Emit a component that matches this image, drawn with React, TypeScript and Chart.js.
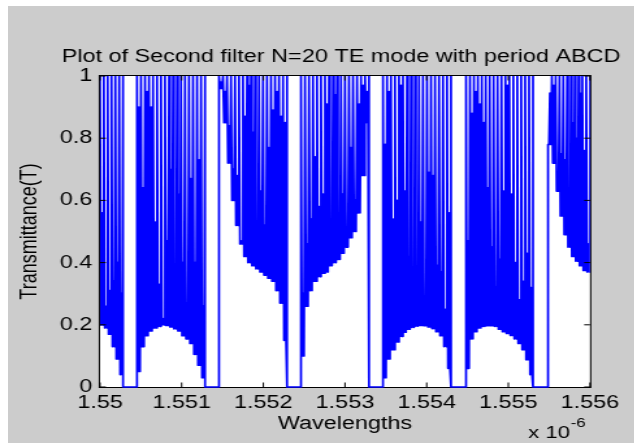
import React, { useEffect, useRef } from 'react';
import { Chart, registerables } from 'chart.js';

Chart.register(...registerables);

// ---- axis ticks (wavelength axis in units of 1e-6 m) ----
const xTicks = [1.55, 1.551, 1.552, 1.553, 1.554, 1.555, 1.556];
const xTickLabels = ['1.55', '1.551', '1.552', '1.553', '1.554', '1.555', '1.556'];
const yTicks = [0, 0.2, 0.4, 0.6, 0.8, 1];
const yTickLabels = ['0', '0.2', '0.4', '0.6', '0.8', '1'];

const TITLE = 'Plot of Second filter N=20 TE mode with period ABCD';

// ---- stop bands (T = 0) ----
const stopStart = [1.550282, 1.551286, 1.55229, 1.553294, 1.554298, 1.555302];
const stopEnd = [1.550453, 1.551457, 1.552461, 1.553465, 1.554482, 1.555486];

// ---- pass bands: fringe minima (lower envelope) and intermediate peaks ----
const bandEdge = [1, 1, 1, 1, 1, 1, 0.78];
const p0Min = [0.2, 0.19, 0.17, 0.13, 0.09, 0.04];
const p0Mid = [0.56, 0.26, 0.31, 0.34, 0.4, 0.3];
const p1Min = [0.05, 0.13, 0.165, 0.18, 0.19, 0.195, 0.2, 0.198, 0.193, 0.187, 0.18, 0.165, 0.155, 0.14, 0.105, 0.07, 0.03];
const p1Mid = [0.9, 0.64, 0.95, 0.9, 0.53, 0.33, 0.22, 0.47, 0.7, 0.3, 0.62, 0.4, 0.27, 0.67, 0.4, 0.73, 0.26];
const p2Min = [0.96, 0.85, 0.72, 0.6, 0.52, 0.46, 0.42, 0.4, 0.39, 0.38, 0.37, 0.36, 0.35, 0.34, 0.31, 0.27, 0.15];
const p2Mid = [0.98, 0.95, 0.84, 0.7, 0.68, 0.47, 0.87, 0.97, 0.82, 0.48, 0.63, 0.52, 0.77, 0.89, 0.95, 0.87, 0.85];
const p3Min = [0.1, 0.26, 0.31, 0.34, 0.355, 0.366, 0.37, 0.39, 0.4, 0.41, 0.43, 0.45, 0.48, 0.5, 0.56, 0.68, 0.85];
const p3Mid = [0.3, 0.46, 0.54, 0.74, 0.58, 0.62, 0.91, 0.4, 0.94, 0.47, 0.62, 0.46, 0.77, 0.6, 0.91, 0.97, 0.95];
const p4Min = [0.03, 0.09, 0.12, 0.145, 0.163, 0.176, 0.186, 0.192, 0.196, 0.198, 0.197, 0.193, 0.188, 0.178, 0.165, 0.13, 0.06];
const p4Mid = [0.78, 0.95, 0.54, 0.6, 0.97, 0.63, 0.42, 0.3, 0.215, 0.53, 0.22, 0.69, 0.68, 0.39, 0.37, 0.25, 0.56];
const p5Min = [0.06, 0.155, 0.178, 0.19, 0.195, 0.197, 0.197, 0.195, 0.186, 0.178, 0.172, 0.166, 0.155, 0.14, 0.12, 0.088, 0.04];
const p5Mid = [0.47, 0.88, 0.95, 0.91, 0.85, 0.64, 0.45, 0.32, 0.41, 0.63, 0.97, 0.62, 0.4, 0.28, 0.34, 0.43, 0.32];
const p6Min = [0.78, 0.72, 0.63, 0.55, 0.49, 0.45, 0.42, 0.405, 0.39, 0.375, 0.37];
const p6Mid = [0.945, 0.97, 0.63, 0.75, 0.73, 0.48, 0.85, 0.8, 0.945, 0.76, 0.46];

const X_MIN = 1.55;
const X_MAX = 1.556;

const bandMins = [p0Min, p1Min, p2Min, p3Min, p4Min, p5Min, p6Min];
const bandMids = [p0Mid, p1Mid, p2Mid, p3Mid, p4Mid, p5Mid, p6Mid];
const bandStart = [X_MIN, ...stopEnd];
const bandEnd = [...stopStart, X_MAX];

function buildSeries() {
  const pts: { x: number; y: number }[] = [];
  bandMins.forEach((mins, i) => {
    const mids = bandMids[i];
    const a = bandStart[i];
    const d = (bandEnd[i] - a) / mins.length;
    mins.forEach((L, k) => {
      const x0 = a + k * d;
      pts.push({ x: x0, y: k === 0 ? bandEdge[i] : 1 });
      pts.push({ x: x0 + d / 4, y: L });
      pts.push({ x: x0 + d / 2, y: mids[k] });
      pts.push({ x: x0 + (3 * d) / 4, y: L });
    });
    pts.push({ x: bandEnd[i], y: 1 });
    if (i < stopStart.length) {
      pts.push({ x: stopStart[i], y: 0 });
      pts.push({ x: stopEnd[i], y: 0 });
    }
  });
  return pts;
}

const FONT = "'Liberation Sans', Arial, Helvetica, sans-serif";
const SX = 1.3; // horizontal stretch of the whole figure
const CW = 488;
const CH = 443;
const PLOT_LEFT = 100 / SX;
const PLOT_RIGHT = 590 / SX;
const PLOT_TOP = 76;
const PLOT_BOTTOM = 387;

const framePlugin = {
  id: 'matlabFrame',
  beforeDraw(chart: any) {
    const { ctx, chartArea: a } = chart;
    ctx.save();
    ctx.fillStyle = '#ffffff';
    ctx.fillRect(a.left, a.top, a.right - a.left, a.bottom - a.top);
    ctx.restore();
  },
  beforeDatasetsDraw(chart: any) {
    const { ctx, chartArea: a } = chart;
    ctx.save();
    ctx.strokeStyle = '#000';
    ctx.lineWidth = 1;
    ctx.strokeRect(a.left - 0.5, a.top - 0.5, a.right - a.left + 1, a.bottom - a.top + 1);
    ctx.restore();
  },
  afterDatasetsDraw(chart: any) {
    const { ctx, chartArea: a, scales } = chart;
    const len = 4.5;
    ctx.save();
    ctx.strokeStyle = '#000';
    ctx.lineWidth = 1;
    ctx.beginPath();
    scales.x.ticks.forEach((t: any) => {
      const px = scales.x.getPixelForValue(t.value);
      ctx.moveTo(px, a.bottom);
      ctx.lineTo(px, a.bottom - len);
      ctx.moveTo(px, a.top);
      ctx.lineTo(px, a.top + len);
    });
    scales.y.ticks.forEach((t: any) => {
      const py = scales.y.getPixelForValue(t.value);
      ctx.moveTo(a.left, py);
      ctx.lineTo(a.left + len, py);
      ctx.moveTo(a.right, py);
      ctx.lineTo(a.right - len, py);
    });
    ctx.stroke();
    ctx.restore();
  },
  afterDraw(chart: any) {
    const { ctx, chartArea: a } = chart;
    ctx.save();
    ctx.fillStyle = '#000';
    ctx.textBaseline = 'middle';
    // title, centred over the axes
    ctx.textAlign = 'center';
    ctx.font = `18px ${FONT}`;
    ctx.fillText(TITLE, (a.left + a.right) / 2 - 3, a.top - 19);
    // axis exponent
    ctx.textAlign = 'left';
    ctx.font = `17px ${FONT}`;
    const base = 'x 10';
    const bx = a.right - 47.5;
    ctx.fillText(base, bx, 433);
    const w = ctx.measureText(base).width;
    ctx.font = `13px ${FONT}`;
    ctx.fillText('-6', bx + w + 0.5, 423);
    ctx.restore();
  },
};

export default function App() {
  const ref = useRef<HTMLCanvasElement>(null);
  useEffect(() => {
    const canvas = ref.current;
    if (!canvas) return;
    const data = buildSeries();
    const chart = new Chart(canvas, {
      type: 'line',
      data: {
        datasets: [
          {
            label: 'T',
            data,
            borderColor: '#0000ff',
            borderWidth: 1.7,
            borderJoinStyle: 'round',
            pointRadius: 0,
            tension: 0,
            fill: false,
            clip: { left: 0, top: 0, right: 0, bottom: 2 } as any,
          },
        ],
      },
      options: {
        animation: false,
        responsive: false,
        devicePixelRatio: 1,
        events: [],
        layout: { padding: { left: 0, right: CW - PLOT_RIGHT, top: PLOT_TOP, bottom: 0 } },
        plugins: {
          legend: { display: false },
          tooltip: { enabled: false },
          title: { display: false },
        },
        scales: {
          x: {
            type: 'linear',
            min: X_MIN,
            max: X_MAX,
            grid: { display: false, drawTicks: false },
            border: { display: false },
            afterBuildTicks: (s: any) => {
              s.ticks = xTicks.map((v) => ({ value: v }));
            },
            afterFit: (s: any) => {
              s.height = CH - PLOT_BOTTOM;
            },
            ticks: {
              autoSkip: false,
              maxRotation: 0,
              padding: 5,
              color: '#000',
              font: { family: FONT, size: 18, lineHeight: 1.2 },
              callback: (_v: any, i: number) => xTickLabels[i],
            },
            title: {
              display: true,
              text: 'Wavelengths',
              color: '#000',
              font: { family: FONT, size: 18, lineHeight: 1.2 },
              padding: { top: 0, bottom: 8 },
            },
          },
          y: {
            type: 'linear',
            min: 0,
            max: 1,
            grid: { display: false, drawTicks: false },
            border: { display: false },
            afterBuildTicks: (s: any) => {
              s.ticks = yTicks.map((v) => ({ value: v }));
            },
            afterFit: (s: any) => {
              s.width = PLOT_LEFT;
            },
            ticks: {
              padding: 6,
              color: '#000',
              font: { family: FONT, size: 18, lineHeight: 1.2 },
              callback: (_v: any, i: number) => yTickLabels[i],
            },
            title: {
              display: true,
              text: 'Transmittance(T)',
              color: '#000',
              font: { family: FONT, size: 18, lineHeight: 1.2 },
              padding: { top: 12, bottom: 0 },
            },
          },
        },
      },
      plugins: [framePlugin],
    } as any);
    return () => chart.destroy();
  }, []);

  return (
    <div style={{ position: 'fixed', left: 0, top: 0, width: 634, height: 443, overflow: 'hidden', background: '#ffffff' }}>
      <div style={{ position: 'absolute', left: 8, top: 6, right: 0, bottom: 0, background: '#cccccc' }} />
      <div
        style={{
          position: 'absolute',
          left: 0,
          top: 0,
          width: CW,
          height: CH,
          transform: `scaleX(${SX})`,
          transformOrigin: '0 0',
        }}
      >
        <canvas ref={ref} width={CW} height={CH} style={{ display: 'block' }} />
      </div>
    </div>
  );
}
